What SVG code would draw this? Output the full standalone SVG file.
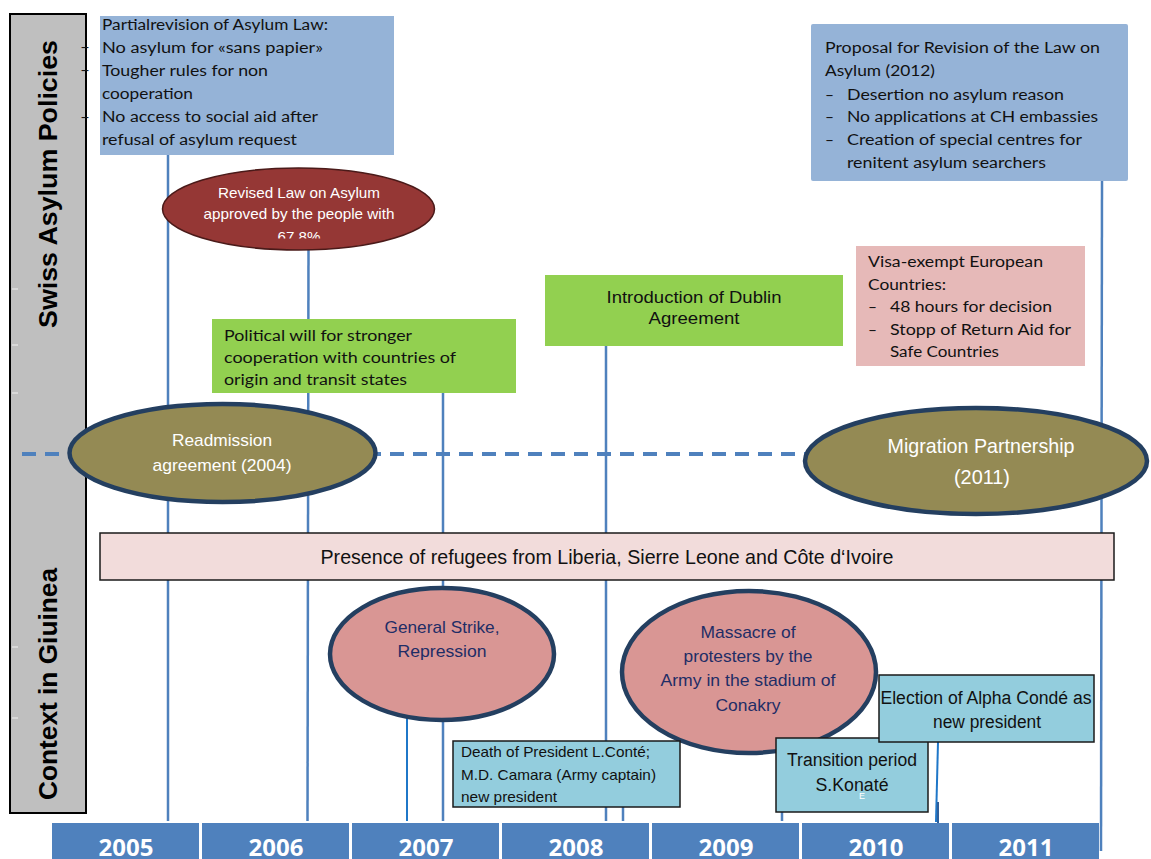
<svg xmlns="http://www.w3.org/2000/svg" width="1151" height="859" viewBox="0 0 1151 859">
<style>
.cal{font-family:Lato,"Open Sans","Liberation Sans",sans-serif;font-size:15.5px;fill:#111}
.ar{font-family:"Liberation Sans",Arial,sans-serif;fill:#111}
.wt{fill:#fff}
.nv{fill:#1F2D66}
.vl{stroke:#4F81BD;stroke-width:2.5;fill:none}
.vl2{stroke:#1F77C8;stroke-width:2;fill:none}
.yr{fill:#4F81BD}
.yt{font-family:"Open Sans","Liberation Sans",sans-serif;font-weight:bold;font-size:24px;fill:#fff;text-anchor:middle}
.side{font-family:"Liberation Sans",Arial,sans-serif;font-weight:bold;font-size:25px;fill:#000;text-anchor:middle}
.olive{fill:#948A54;stroke:#243F60;stroke-width:4.5}
.pinkel{fill:#D99694;stroke:#243F60;stroke-width:4.5}
.lb{fill:#93CDDD;stroke:#1a1a1a;stroke-width:1.5}
</style>
<defs>
<clipPath id="redclip"><rect x="160" y="168" width="280" height="70.5"/></clipPath>
</defs>
<rect width="1151" height="859" fill="#fff"/>

<g id="side-bar">
<rect x="10" y="14" width="76" height="799" fill="#BFBFBF" stroke="#000" stroke-width="2"/>
<g stroke="#fff" stroke-width="1" opacity="0.8">
<line x1="12" y1="289" x2="18" y2="289"/>
<line x1="12" y1="345" x2="18" y2="345"/>
<line x1="12" y1="393" x2="18" y2="393"/>
<line x1="12" y1="647" x2="18" y2="647"/>
<line x1="12" y1="718" x2="18" y2="718"/>
</g>
<text class="side" transform="translate(57,184) rotate(-90)" textLength="288" lengthAdjust="spacingAndGlyphs">Swiss Asylum Policies</text>
<text class="side" transform="translate(57,684) rotate(-90)" textLength="232" lengthAdjust="spacingAndGlyphs">Context in Giuinea</text>
</g>

<g id="connectors">
<line class="vl" x1="168" y1="155" x2="168" y2="821"/>
<line class="vl" x1="308.5" y1="248" x2="307.5" y2="821"/>
<line class="vl" x1="443" y1="393" x2="443" y2="821"/>
<line class="vl2" x1="407" y1="715" x2="407" y2="821"/>
<line class="vl" x1="606" y1="346" x2="606" y2="821"/>
<line class="vl" x1="623" y1="806" x2="623" y2="821"/>
<line class="vl" x1="782" y1="811" x2="782" y2="821"/>
<line class="vl2" x1="938" y1="742" x2="936" y2="822"/>
<line stroke="#2F5F9A" stroke-width="2" x1="938" y1="802" x2="938" y2="840"/>
<line class="vl" x1="1102" y1="181" x2="1101" y2="851"/>
<line stroke="#4F81BD" stroke-width="4" stroke-dasharray="14 9" x1="22" y1="454" x2="805" y2="454"/>
</g>

<g id="years">
<rect class="yr" x="52" y="823" width="147" height="36"/>
<rect class="yr" x="202" y="823" width="147" height="36"/>
<rect class="yr" x="352" y="823" width="147" height="36"/>
<rect class="yr" x="502" y="823" width="147" height="36"/>
<rect class="yr" x="652" y="823" width="147" height="36"/>
<rect class="yr" x="802" y="823" width="147" height="36"/>
<rect class="yr" x="952" y="823" width="147" height="36"/>
<text class="yt" x="126" y="856">2005</text>
<text class="yt" x="276" y="856">2006</text>
<text class="yt" x="426" y="856">2007</text>
<text class="yt" x="576" y="856">2008</text>
<text class="yt" x="726" y="856">2009</text>
<text class="yt" x="876" y="856">2010</text>
<text class="yt" x="1026" y="856">2011</text>
</g>

<g id="partial-revision">
<rect x="100" y="16" width="294" height="139" fill="#95B3D7"/>
<text class="cal" x="80" y="52" textLength="10" lengthAdjust="spacingAndGlyphs">–</text>
<text class="cal" x="80" y="75" textLength="10" lengthAdjust="spacingAndGlyphs">–</text>
<text class="cal" x="80" y="122" textLength="10" lengthAdjust="spacingAndGlyphs">–</text>
<text class="cal" x="102" y="30" textLength="226" lengthAdjust="spacingAndGlyphs">Partialrevision of Asylum  Law:</text>
<text class="cal" x="102" y="53" textLength="221" lengthAdjust="spacingAndGlyphs">No asylum for «sans papier»</text>
<text class="cal" x="102" y="76" textLength="166" lengthAdjust="spacingAndGlyphs">Tougher rules for non</text>
<text class="cal" x="102" y="99" textLength="91" lengthAdjust="spacingAndGlyphs">cooperation</text>
<text class="cal" x="102" y="122" textLength="216" lengthAdjust="spacingAndGlyphs">No access to social aid after</text>
<text class="cal" x="102" y="145" textLength="195" lengthAdjust="spacingAndGlyphs">refusal of asylum request</text>
</g>

<g id="revised-law">
<ellipse cx="298.5" cy="209" rx="136" ry="41" fill="#953735" stroke="#4a1a19" stroke-width="1.5"/>
<g clip-path="url(#redclip)">
<text class="ar wt" font-size="15" text-anchor="middle" x="299" y="198" textLength="162" lengthAdjust="spacingAndGlyphs">Revised Law on Asylum</text>
<text class="ar wt" font-size="15" text-anchor="middle" x="299" y="219" textLength="191" lengthAdjust="spacingAndGlyphs">approved by the people with</text>
<text class="ar wt" font-size="15" text-anchor="middle" x="299" y="242" textLength="43" lengthAdjust="spacingAndGlyphs">67.8%</text>
</g>
</g>

<g id="proposal-2012">
<rect x="811" y="24" width="317" height="157" rx="2" fill="#95B3D7"/>
<text class="cal" x="825" y="53" textLength="275" lengthAdjust="spacingAndGlyphs">Proposal for Revision of the Law on</text>
<text class="cal" x="825" y="76" textLength="110" lengthAdjust="spacingAndGlyphs">Asylum (2012)</text>
<text class="cal" x="825" y="100">–</text>
<text class="cal" x="847" y="100" textLength="217" lengthAdjust="spacingAndGlyphs">Desertion no asylum reason</text>
<text class="cal" x="825" y="122">–</text>
<text class="cal" x="847" y="122" textLength="251" lengthAdjust="spacingAndGlyphs">No applications at CH embassies</text>
<text class="cal" x="825" y="145">–</text>
<text class="cal" x="847" y="145" textLength="235" lengthAdjust="spacingAndGlyphs">Creation of special centres for</text>
<text class="cal" x="847" y="168" textLength="199" lengthAdjust="spacingAndGlyphs">renitent asylum searchers</text>
</g>

<g id="visa-exempt">
<rect x="856" y="246" width="229" height="120" fill="#E6B9B8"/>
<text class="cal" x="868" y="267" textLength="175" lengthAdjust="spacingAndGlyphs">Visa-exempt European</text>
<text class="cal" x="868" y="290" textLength="78" lengthAdjust="spacingAndGlyphs">Countries:</text>
<text class="cal" x="868" y="312">–</text>
<text class="cal" x="890" y="312" textLength="162" lengthAdjust="spacingAndGlyphs">48 hours for decision</text>
<text class="cal" x="868" y="335">–</text>
<text class="cal" x="890" y="335" textLength="181" lengthAdjust="spacingAndGlyphs">Stopp of Return Aid for</text>
<text class="cal" x="890" y="357" textLength="109" lengthAdjust="spacingAndGlyphs">Safe Countries</text>
</g>

<g id="dublin">
<rect x="545" y="275" width="298" height="71" fill="#92D050"/>
<text class="ar" font-size="17" text-anchor="middle" x="694" y="303" textLength="175" lengthAdjust="spacingAndGlyphs">Introduction of Dublin</text>
<text class="ar" font-size="17" text-anchor="middle" x="694" y="324" textLength="91" lengthAdjust="spacingAndGlyphs">Agreement</text>
</g>

<g id="political-will">
<rect x="212" y="319" width="304" height="74" fill="#92D050"/>
<text class="cal" x="224" y="341" textLength="188" lengthAdjust="spacingAndGlyphs">Political will  for stronger</text>
<text class="cal" x="224" y="363" textLength="232" lengthAdjust="spacingAndGlyphs">cooperation  with countries of</text>
<text class="cal" x="224" y="385" textLength="183" lengthAdjust="spacingAndGlyphs">origin and transit states</text>
</g>

<g id="readmission">
<ellipse class="olive" cx="222.5" cy="453" rx="153" ry="49"/>
<text class="ar wt" font-size="17" text-anchor="middle" x="222" y="446" textLength="100" lengthAdjust="spacingAndGlyphs">Readmission</text>
<text class="ar wt" font-size="17" text-anchor="middle" x="222" y="471" textLength="139" lengthAdjust="spacingAndGlyphs">agreement (2004)</text>
</g>

<g id="migration-partnership">
<ellipse class="olive" cx="976" cy="461" rx="171" ry="53"/>
<text class="ar wt" font-size="21" text-anchor="middle" x="981" y="453" textLength="187" lengthAdjust="spacingAndGlyphs">Migration Partnership</text>
<text class="ar wt" font-size="21" text-anchor="middle" x="982" y="484" textLength="56" lengthAdjust="spacingAndGlyphs">(2011)</text>
</g>

<g id="refugees">
<rect x="100" y="533" width="1014" height="47" fill="#F2DCDB" stroke="#1a1a1a" stroke-width="1.5"/>
<text class="ar" font-size="21" text-anchor="middle" x="607" y="564" textLength="573" lengthAdjust="spacingAndGlyphs">Presence of refugees from Liberia, Sierre Leone and Côte d‘Ivoire</text>
</g>

<g id="general-strike">
<ellipse class="pinkel" cx="442" cy="654" rx="112" ry="66"/>
<text class="ar nv" font-size="17" text-anchor="middle" x="442" y="633" textLength="115" lengthAdjust="spacingAndGlyphs">General Strike,</text>
<text class="ar nv" font-size="17" text-anchor="middle" x="442" y="657" textLength="89" lengthAdjust="spacingAndGlyphs">Repression</text>
</g>

<g id="massacre">
<ellipse class="pinkel" cx="749" cy="672" rx="127" ry="81"/>
<text class="ar nv" font-size="17" text-anchor="middle" x="748" y="638" textLength="95" lengthAdjust="spacingAndGlyphs">Massacre of</text>
<text class="ar nv" font-size="17" text-anchor="middle" x="748" y="662" textLength="129" lengthAdjust="spacingAndGlyphs">protesters by the</text>
<text class="ar nv" font-size="17" text-anchor="middle" x="748" y="686" textLength="175" lengthAdjust="spacingAndGlyphs">Army in the stadium of</text>
<text class="ar nv" font-size="17" text-anchor="middle" x="748" y="711" textLength="65" lengthAdjust="spacingAndGlyphs">Conakry</text>
</g>

<g id="death-conte">
<rect class="lb" x="453" y="741" width="227" height="66"/>
<text class="ar" font-size="15" x="461" y="757" textLength="189" lengthAdjust="spacingAndGlyphs">Death of President L.Conté;</text>
<text class="ar" font-size="15" x="461" y="780" textLength="195" lengthAdjust="spacingAndGlyphs">M.D. Camara (Army captain)</text>
<text class="ar" font-size="15" x="461" y="802" textLength="96" lengthAdjust="spacingAndGlyphs">new president</text>
</g>

<g id="transition">
<rect class="lb" x="776" y="738" width="152" height="74"/>
<text class="ar" font-size="18" text-anchor="middle" x="852" y="766" textLength="130" lengthAdjust="spacingAndGlyphs">Transition period</text>
<text class="ar" font-size="18" text-anchor="middle" x="852" y="791" textLength="73" lengthAdjust="spacingAndGlyphs">S.Konaté</text>
<text class="ar wt" font-size="9" x="859" y="799">E</text>
</g>

<g id="election-conde">
<rect class="lb" x="879" y="675" width="215" height="67"/>
<text class="ar" font-size="18" text-anchor="middle" x="986" y="704" textLength="211" lengthAdjust="spacingAndGlyphs">Election of Alpha Condé as</text>
<text class="ar" font-size="18" text-anchor="middle" x="987" y="728" textLength="108" lengthAdjust="spacingAndGlyphs">new president</text>
</g>
</svg>
